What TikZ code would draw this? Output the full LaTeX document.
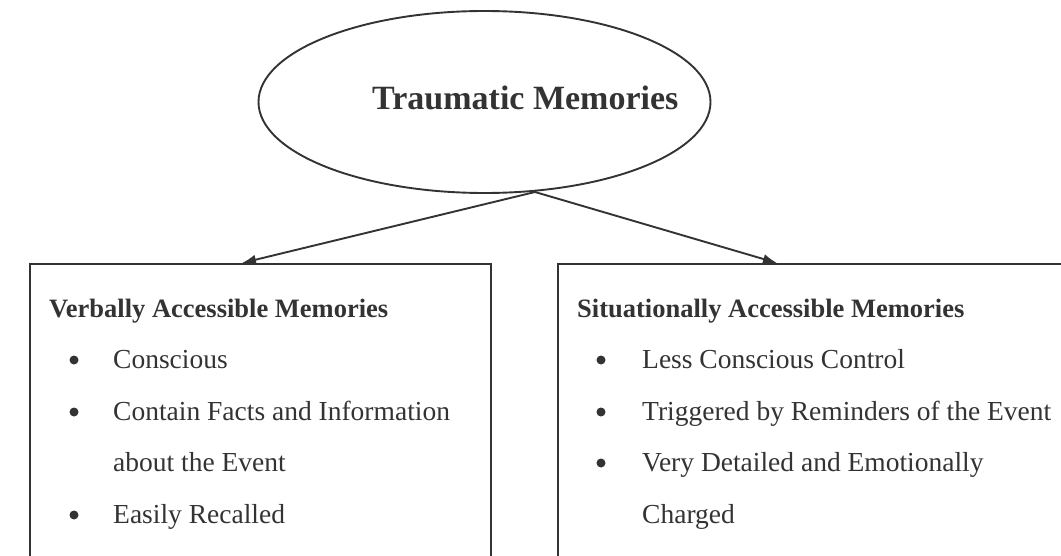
\documentclass[tikz,border=0pt]{standalone}
\usepackage{fontspec}
\setmainfont{Liberation Serif}
\usepackage{tikz}
\usetikzlibrary{arrows.meta,shapes.geometric,positioning}

\definecolor{ink}{HTML}{333333}
\tikzset{
  boxline/.style={draw=ink, line width=1.9pt, inner sep=0pt},
  head/.style={anchor=base west, inner sep=0pt, text=ink,
    font=\fontsize{26.5}{30}\selectfont\bfseries},
  item/.style={anchor=base west, inner sep=0pt, text=ink,
    font=\fontsize{27.5}{32}\selectfont},
  link/.style={draw=ink, line width=1.9pt, -{Latex[length=14pt,width=10pt]}},
}

\begin{document}
\begin{tikzpicture}[x=1pt,y=-1pt]
  \useasboundingbox (0,0) rectangle (1061,556);
  \clip (0,0) rectangle (1061,556);

  % Traumatic memories ellipse
  \node[ellipse, boxline, minimum width=452pt, minimum height=182pt] (trauma) at (484.5,102) {};
  \node[anchor=base west, inner sep=0pt, text=ink,
    font=\fontsize{34}{40}\selectfont\bfseries] (title) at (372,110) {Traumatic Memories};

  % Memory boxes (open at the bottom of the page)
  \node[rectangle, boxline, anchor=north west, minimum width=461pt, minimum height=320pt] (vam) at (29,263) {};
  \node[rectangle, boxline, anchor=north west, minimum width=520pt, minimum height=320pt] (sam) at (557,263) {};

  % Arrows
  \coordinate (fork) at (535,192);
  \draw[link] (fork) -- (242,0 |- vam.north);
  \draw[link] (fork) -- (777,0 |- sam.north);

  % Verbally accessible
  \node[head] (vamhead) at (49,317) {Verbally Accessible Memories};
  \node[item] (vam1) at (113,368) {Conscious};
  \node[item] (vam2) at (113,420) {Contain Facts and Information};
  \node[item] (vam3) at (113,471) {about the Event};
  \node[item] (vam4) at (113,523) {Easily Recalled};
  \foreach \y in {368,420,523} {
    \fill[ink] (74,\y-8) circle (4.5pt);
  }

  % Situationally accessible
  \node[head] (samhead) at (577,317) {Situationally Accessible Memories};
  \node[item] (sam1) at (642,368) {Less Conscious Control};
  \node[item] (sam2) at (642,420) {Triggered by Reminders of the Event};
  \node[item] (sam3) at (642,471) {Very Detailed and Emotionally};
  \node[item] (sam4) at (642,523) {Charged};
  \foreach \y in {368,420,471} {
    \fill[ink] (601,\y-8) circle (4.5pt);
  }
\end{tikzpicture}
\end{document}
